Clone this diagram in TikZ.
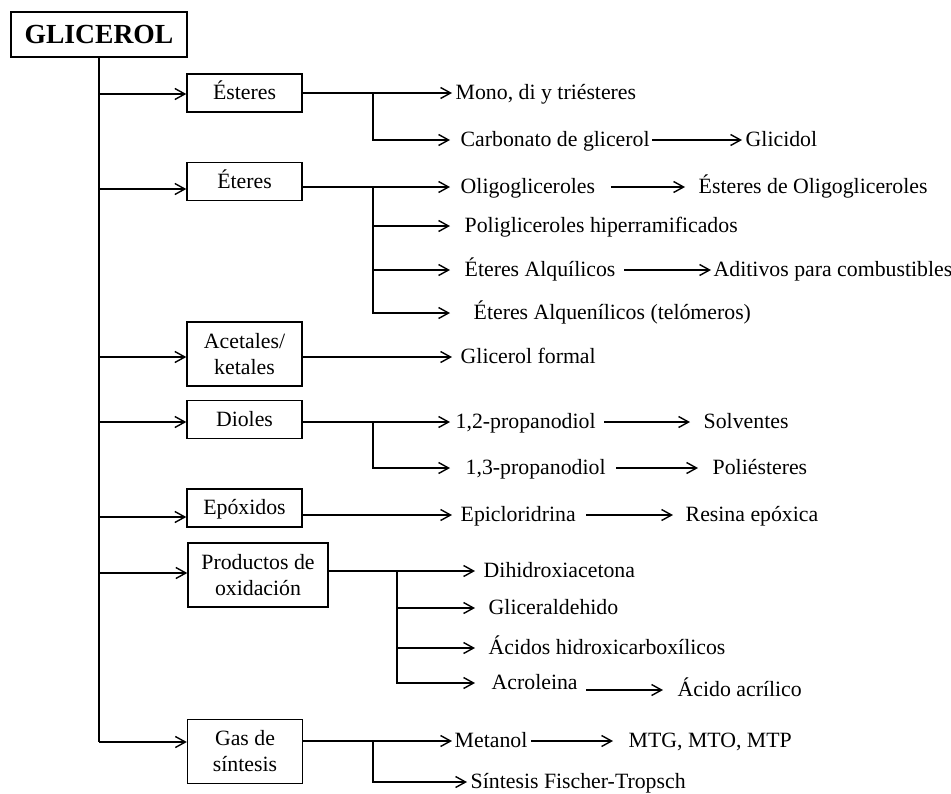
\documentclass[tikz,border=0pt]{standalone}
\usepackage{fontspec}
\setmainfont{Liberation Serif}
\usepackage{tikz}
\usetikzlibrary{arrows.meta}
\usetikzlibrary{positioning}

\begin{document}
\begin{tikzpicture}[x=0.5pt,y=-0.5pt,line width=0.7pt,font=\fontsize{10.9}{13}\selectfont,
  caja/.style={draw,minimum width=57.5pt,align=center,inner sep=0pt},
  caja1/.style={caja,minimum height=19pt,text height=1.5ex,text depth=0pt},
  caja2/.style={caja,minimum height=32pt},
  prod/.style={anchor=west,inner xsep=0pt,inner ysep=1pt,text height=1.5ex,text depth=0pt},
  flecha/.style={-{Straight Barb[length=5pt,width=5.5pt]}}]
  \useasboundingbox (0,0) rectangle (951,793);
  \node[draw,minimum width=88pt,minimum height=22.5pt,inner sep=0pt,font=\fontsize{13.8}{16}\selectfont\bfseries] (gli) at (99,34.5) {GLICEROL};
  \node[caja1] (est) at (244.5,93) {Ésteres};
  \node[caja1] (ete) at (244.5,181.5) {Éteres};
  \node[caja2] (ace) at (244.5,354) {Acetales/\\ketales};
  \node[caja1] (dio) at (244.5,419.5) {Dioles};
  \node[caja1] (epo) at (244.5,508) {Epóxidos};
  \node[caja2,minimum width=70pt] (pro) at (258,575) {Productos de\\oxidación};
  \node[caja2] (gas) at (245,751.5) {Gas de\\síntesis};
  \coordinate (m1) at (99,94);
  \coordinate (m2) at (99,189);
  \coordinate (m3) at (99,357);
  \coordinate (m4) at (99,422);
  \coordinate (m5) at (99,517);
  \coordinate (m6) at (99,573);
  \coordinate (m7) at (99,742);
  \draw (gli.south) -- (m7);
  \foreach \m/\c in {m1/est,m2/ete,m3/ace,m4/dio,m5/epo,m6/pro,m7/gas}
    \draw[flecha] (\m) -- (\m -| \c.west);
  \begin{scope}[every node/.style={prod}]
    \node (mono) at (455,93) {Mono, di y triésteres};
    \node (carb) at (460,140) {Carbonato de glicerol};
    \node (glic) at (745,140) {Glicidol};
    \node (oligo) at (460,187) {Oligogliceroles};
    \node (eoligo) at (698,187) {Ésteres de Oligogliceroles};
    \node (poli) at (464,226) {Poligliceroles hiperramificados};
    \node (alq) at (464,270) {Éteres Alquílicos};
    \node (adit) at (713,270) {Aditivos para combustibles};
    \node (alqn) at (473,313) {Éteres Alquenílicos (telómeros)};
    \node (form) at (460,357) {Glicerol formal};
    \node (p12) at (455,422) {1,2-propanodiol};
    \node (solv) at (703,422) {Solventes};
    \node (p13) at (465,468) {1,3-propanodiol};
    \node (polie) at (712,468) {Poliésteres};
    \node (epic) at (460,515) {Epicloridrina};
    \node (resina) at (685,515) {Resina epóxica};
    \node (dihid) at (483,571) {Dihidroxiacetona};
    \node (glal) at (488,608) {Gliceraldehido};
    \node (acid) at (488,648) {Ácidos hidroxicarboxílicos};
    \node (acro) at (491,683) {Acroleina};
    \node (acri) at (677,690) {Ácido acrílico};
    \node (meta) at (454,741) {Metanol};
    \node (mtg) at (628,741) {MTG, MTO, MTP};
    \node (fisc) at (470,782) {Síntesis Fischer-Tropsch};
  \end{scope}
  \coordinate (f1) at (373,93);
  \coordinate (f2) at (373,187);
  \coordinate (f4) at (373,422);
  \coordinate (f6) at (397,571);
  \coordinate (f7) at (373,741);
  \draw[flecha,shorten >=1.5pt] (f1 -| est.east) -- (mono.west);
  \draw[flecha,shorten >=5pt] (f1) |- (carb.west);
  \draw[flecha,shorten >=5pt] (f2 -| ete.east) -- (oligo.west);
  \foreach \t/\s in {poli/7pt,alq/7pt,alqn/11.5pt}
    \draw[flecha,shorten >=\s] (f2) |- (\t.west);
  \draw[flecha,shorten >=4pt] (form.west -| ace.east) -- (form.west);
  \draw[flecha,shorten >=2.5pt] (f4 -| dio.east) -- (p12.west);
  \draw[flecha,shorten >=7.5pt] (f4) |- (p13.west);
  \draw[flecha,shorten >=4pt] (epic.west -| epo.east) -- (epic.west);
  \draw[flecha,shorten >=4pt] (f6 -| pro.east) -- (dihid.west);
  \foreach \t/\s in {glal/6.5pt,acid/6.5pt,acro/8pt}
    \draw[flecha,shorten >=\s] (f6) |- (\t.west);
  \draw[flecha,shorten >=1pt] (f7 -| gas.east) -- (meta.west);
  \draw[flecha,shorten >=1.5pt] (f7) |- (fisc.west);
  \draw[flecha,shorten <=1pt,shorten >=1.5pt] (carb.east) -- (glic.west);
  \draw[flecha,shorten <=7.5pt,shorten >=6.5pt] (oligo.east) -- (eoligo.west);
  \draw[flecha,shorten <=4pt,shorten >=1pt] (alq.east) -- (adit.west);
  \draw[flecha,shorten <=4pt,shorten >=6.5pt] (p12.east) -- (solv.west);
  \draw[flecha,shorten <=5pt,shorten >=7pt] (p13.east) -- (polie.west);
  \draw[flecha,shorten <=5pt,shorten >=6pt] (epic.east) -- (resina.west);
  \draw[flecha,shorten <=4pt,shorten >=7pt] (acri.west -| acro.east) -- (acri.west);
  \draw[flecha,shorten <=1.5pt,shorten >=7.5pt] (meta.east) -- (mtg.west);
\end{tikzpicture}
\end{document}
